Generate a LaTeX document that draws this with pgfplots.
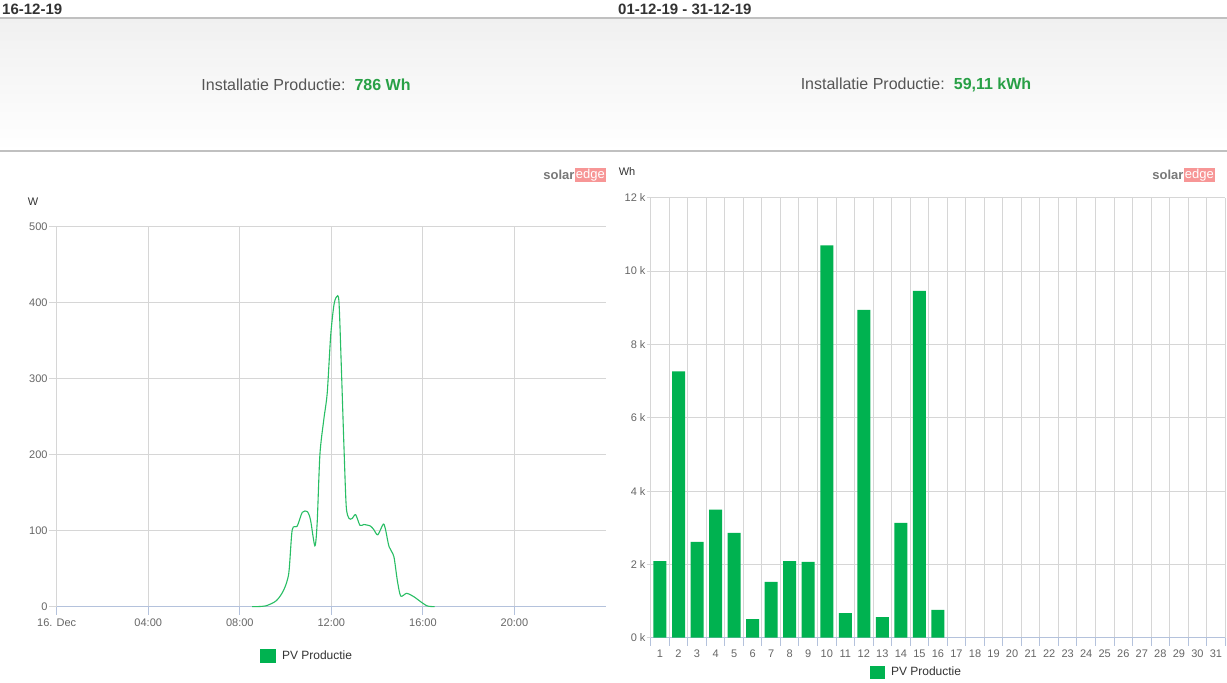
\documentclass[border=0pt]{standalone}
\usepackage{pgfplots}
\usepackage{pgfplotstable}
\pgfplotsset{compat=1.18}
\usepackage{fontspec}
\setmainfont{Liberation Sans}
\definecolor{seGreen}{RGB}{0,178,80}
\definecolor{lineGreen}{RGB}{40,190,100}
\definecolor{valGreen}{RGB}{40,160,70}
\definecolor{gridGray}{RGB}{214,214,214}
\definecolor{axisBlue}{RGB}{180,194,220}
\definecolor{tickText}{RGB}{102,102,102}
\definecolor{hdrText}{RGB}{85,85,85}
\definecolor{darkText}{RGB}{51,51,51}
\definecolor{logoPink}{RGB}{247,150,150}
\definecolor{logoGray}{RGB}{120,120,120}
\definecolor{sepGray}{RGB}{192,192,192}
\definecolor{bandTop}{RGB}{240,240,240}

\pgfplotstableread{
t w
8.54 0
9.12 1
9.60 8
9.92 22
10.14 44
10.29 101
10.51 106
10.73 124
10.95 125
11.09 114
11.28 80
11.38 110
11.50 200
11.67 246
11.82 281
11.97 356
12.11 396
12.22 407
12.33 402
12.43 321
12.55 211
12.65 132
12.77 116
12.91 116
13.06 121
13.25 107
13.42 108
13.71 106
13.86 101
14.03 94.5
14.27 108.6
14.37 101
14.52 79
14.73 66
14.88 35
15.03 14
15.29 17.6
15.61 13
15.90 6.6
16.19 1
16.51 0
}\daydata

\pgfplotstableread{
d e
1 2090
2 7260
3 2610
4 3490
5 2860
6 510
7 1520
8 2090
9 2070
10 10700
11 670
12 8940
13 560
14 3130
15 9460
16 760
}\monthdata

\begin{document}
\begin{tikzpicture}[x=1pt,y=1pt]
\useasboundingbox (0,0) rectangle (1227,683);
\fill[white] (0,0) rectangle (1227,683);
\shade[top color=bandTop, bottom color=white] (0,532) rectangle (1227,665);
\draw[sepGray, line width=1.5pt] (0,665) -- (1227,665);
\draw[sepGray, line width=1.5pt] (0,532) -- (1227,532);

\node[anchor=west, inner sep=0pt, text=darkText, font=\bfseries\fontsize{15}{15}\selectfont] at (2,674) {16-12-19};
\node[anchor=west, inner sep=0pt, text=darkText, font=\bfseries\fontsize{15}{15}\selectfont] at (618,674) {01-12-19 - 31-12-19};

\node[anchor=center, inner sep=0pt, font=\fontsize{16}{16}\selectfont] at (306,598) {\textcolor{hdrText}{Installatie Productie:}\hspace{9pt}\textcolor{valGreen}{\bfseries 786 Wh}};
\node[anchor=center, inner sep=0pt, font=\fontsize{16}{16}\selectfont] at (916,598) {\textcolor{hdrText}{Installatie Productie:}\hspace{9pt}\textcolor{valGreen}{\bfseries 59,11 kWh}};

% logos
\node[anchor=east, inner xsep=1pt, inner ysep=1pt, fill=logoPink, text=white, font=\fontsize{13}{13}\selectfont] (e1) at (606,508) {edge};
\node[anchor=east, inner sep=0pt, text=logoGray, font=\bfseries\fontsize{13}{13}\selectfont] at (e1.west) {solar};
\node[anchor=east, inner xsep=1pt, inner ysep=1pt, fill=logoPink, text=white, font=\fontsize{13}{13}\selectfont] (e2) at (1215,508) {edge};
\node[anchor=east, inner sep=0pt, text=logoGray, font=\bfseries\fontsize{13}{13}\selectfont] at (e2.west) {solar};

\node[anchor=center, inner sep=0pt, text=darkText, font=\fontsize{11}{11}\selectfont] at (33,481) {W};
\node[anchor=center, inner sep=0pt, text=darkText, font=\fontsize{11}{11}\selectfont] at (627,511) {Wh};

% left chart
\begin{axis}[
  at={(56.7pt,76.3pt)}, anchor=south west, scale only axis,
  width=549.3pt, height=380.4pt,
  xmin=0, xmax=24, ymin=0, ymax=500,
  xtick={0,4,8,12,16,20},
  xticklabels={16. Dec,04:00,08:00,12:00,16:00,20:00},
  ytick={0,100,200,300,400,500},
  yticklabels={0,100,200,300,400,500},
  grid=major, major grid style={gridGray, line width=1pt},
  axis x line*=bottom, axis y line*=left,
  x axis line style={axisBlue, line width=1.2pt, -},
  y axis line style={draw=none},
  xtick style={axisBlue, line width=1pt},
  ytick style={gridGray, line width=1pt},
  major tick length=8pt,
  tick align=outside,
  ticklabel style={font=\fontsize{11}{11}\selectfont, text=tickText},
  yticklabel style={inner sep=1pt},
  xticklabel style={inner sep=1pt, yshift=-3pt},
  legend style={at={(0.4557,-0.1296)}, anchor=center, draw=none, fill=none,
    font=\fontsize{12}{12}\selectfont, text=darkText,
    /tikz/every odd column/.append style={column sep=4pt}},
  clip=false,
]
\addplot[lineGreen, line width=1.1pt, smooth, tension=0.45,
  legend image code/.code={\fill[seGreen] (0pt,-7pt) rectangle (15pt,6pt);}]
  table[x=t, y=w] {\daydata};
\addlegendentry{PV Productie}
\end{axis}

% right chart
\begin{axis}[
  at={(650.7pt,45.3pt)}, anchor=south west, scale only axis,
  width=574.5pt, height=440pt,
  xmin=0.5, xmax=31.5, ymin=0, ymax=12000,
  scaled y ticks=false,
  /pgf/number format/assume math mode=true,
  xtick={1,2,...,31},
  xticklabel={\pgfmathprintnumber{\tick}},
  minor xtick={0.5,1.5,...,31.5},
  ytick={0,2000,4000,6000,8000,10000,12000},
  yticklabels={0 k,2 k,4 k,6 k,8 k,10 k,12 k},
  xminorgrids, ymajorgrids,
  minor grid style={gridGray, line width=1pt},
  major grid style={gridGray, line width=1pt},
  axis x line*=bottom, axis y line*=left,
  x axis line style={axisBlue, line width=1.2pt, -},
  y axis line style={gridGray, line width=1pt, -},
  major x tick style={draw=none},
  minor x tick style={axisBlue, line width=1pt},
  ytick style={gridGray, line width=1pt},
  major tick length=4pt, minor tick length=8pt,
  tick align=outside,
  ticklabel style={font=\fontsize{11}{11}\selectfont, text=tickText},
  yticklabel style={inner sep=1pt},
  xticklabel style={inner sep=1pt, yshift=-7pt},
  legend style={at={(0.4627,-0.078)}, anchor=center, draw=none, fill=none,
    font=\fontsize{12}{12}\selectfont, text=darkText,
    /tikz/every odd column/.append style={column sep=4pt}},
  clip=false,
]
\addplot[ybar, bar width=13pt, fill=seGreen, draw=none,
  legend image code/.code={\fill[seGreen] (0pt,-7pt) rectangle (15pt,6pt);}]
  table[x=d, y=e] {\monthdata};
\addlegendentry{PV Productie}
\end{axis}
\end{tikzpicture}
\end{document}
